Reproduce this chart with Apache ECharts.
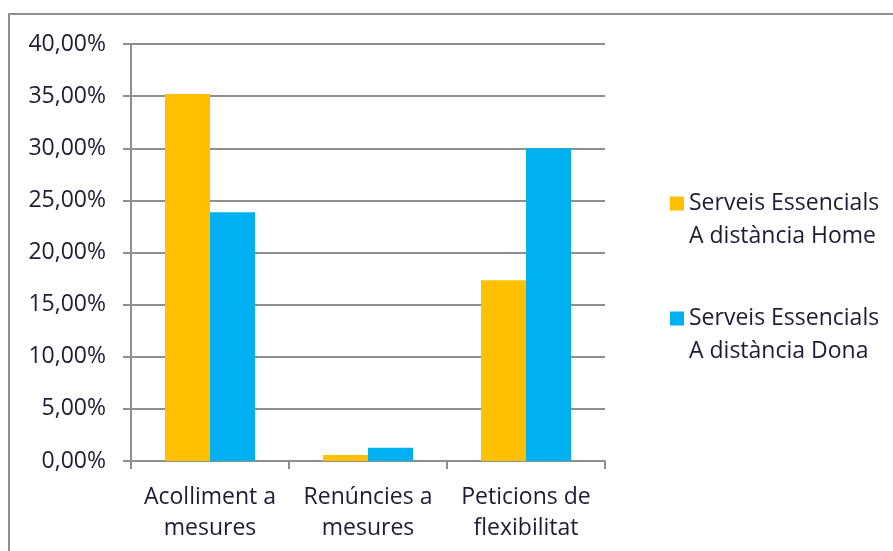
<!DOCTYPE html>
<html>
<head>
<meta charset="utf-8">
<script src="https://cdn.jsdelivr.net/npm/echarts@6/dist/echarts.min.js"></script>
<style>
  html, body { margin: 0; padding: 0; background: #fff; }
  #chart { width: 893px; height: 551px; }
</style>
</head>
<body>
<div id="chart"></div>
<script>
const categories = ['Acolliment a\nmesures', 'Renúncies a\nmesures', 'Peticions de\nflexibilitat'];
const seriesNames = ['Serveis Essencials\nA distància Home', 'Serveis Essencials\nA distància Dona'];
const homeValues = [35.2, 0.57, 17.35];
const donaValues = [23.85, 1.27, 30.0];

const fontFamily = '"Open Sans", sans-serif';
const textColor = '#1c1c33';
const lineColor = '#8f8f8f';

const chart = echarts.init(document.getElementById('chart'));

const option = {
    backgroundColor: '#fff',
    animation: false,
    textStyle: { fontFamily: fontFamily },
    // outer frame, only top and left edges fall inside the picture
    graphic: [{
        type: 'rect',
        shape: { x: 9, y: 14, width: 900, height: 560 },
        style: { fill: 'none', stroke: lineColor, lineWidth: 2 },
        silent: true
    }],
    grid: { left: 131, right: 288, top: 44, bottom: 90 },
    legend: {
        orient: 'vertical',
        left: 665,
        top: 149,
        itemWidth: 14,
        itemHeight: 14,
        itemGap: 16,
        icon: 'rect',
        // leading blank line keeps the first text line level with the swatch
        formatter: name => '\n' + name,
        textStyle: {
            color: textColor,
            fontSize: 23,
            lineHeight: 33
        },
        data: seriesNames
    },
    xAxis: {
        type: 'category',
        data: categories,
        axisLine: { lineStyle: { color: lineColor, width: 2 } },
        axisTick: { show: true, length: 8, lineStyle: { color: lineColor, width: 2 } },
        axisLabel: { color: textColor, fontSize: 23, lineHeight: 31, margin: 21, interval: 0 },
        splitLine: { show: false }
    },
    yAxis: {
        type: 'value',
        min: 0,
        max: 40,
        interval: 5,
        axisLine: { show: true, lineStyle: { color: lineColor, width: 2 } },
        axisTick: { show: true, length: 8, lineStyle: { color: lineColor, width: 2 } },
        axisLabel: {
            color: textColor,
            fontSize: 23,
            margin: 25,
            formatter: v => v.toFixed(2).replace('.', ',') + '%'
        },
        splitLine: { lineStyle: { color: lineColor, width: 2 } }
    },
    series: [{
        name: seriesNames[0],
        type: 'bar',
        data: homeValues,
        barGap: '0%',
        barCategoryGap: '43%',
        itemStyle: { color: '#ffc000' }
    }, {
        name: seriesNames[1],
        type: 'bar',
        data: donaValues,
        barGap: '0%',
        barCategoryGap: '43%',
        itemStyle: { color: '#00b0f0' }
    }]
};

chart.setOption(option);
</script>
</body>
</html>
